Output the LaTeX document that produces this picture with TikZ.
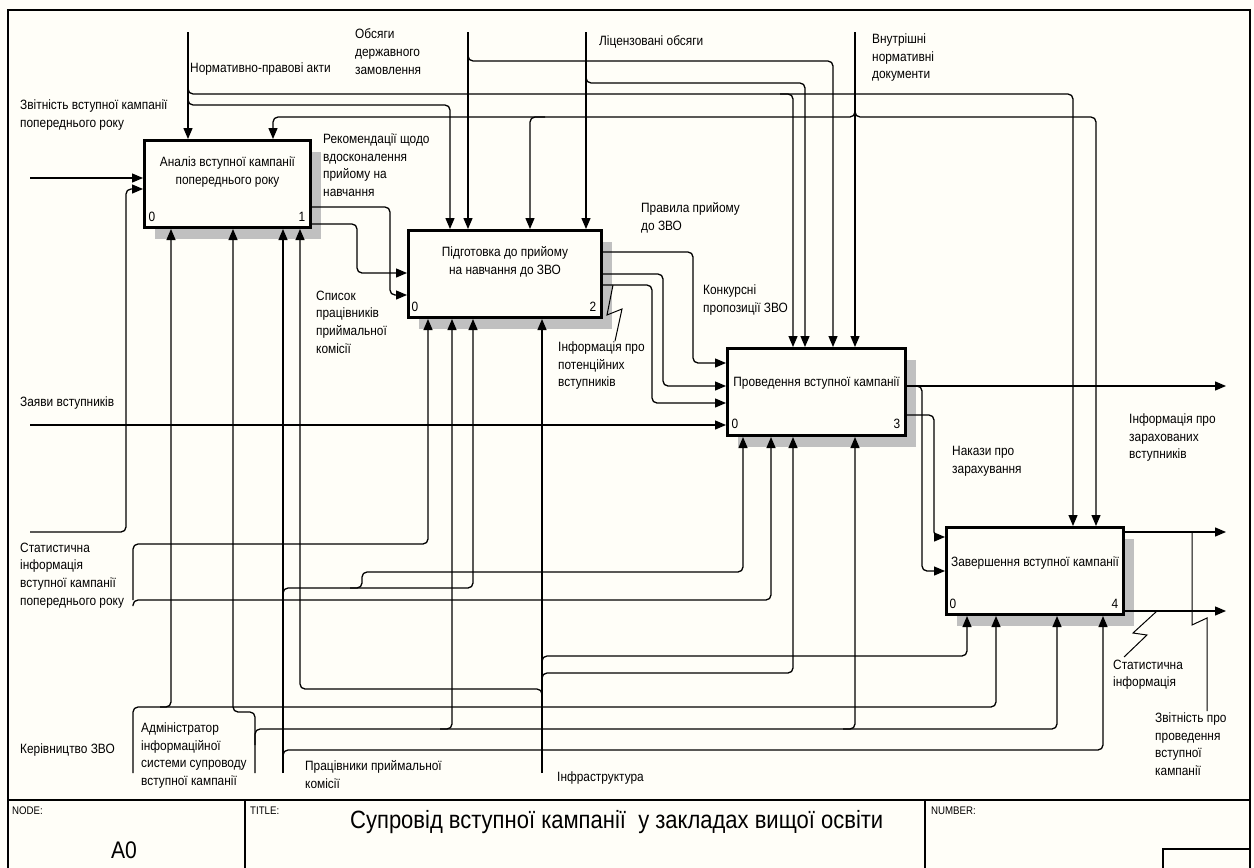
\documentclass[tikz,border=0pt]{standalone}
\usepackage{fontspec}
\setmainfont{Liberation Sans}[FakeStretch=0.88]
\usetikzlibrary{arrows.meta,shadows}
\definecolor{bgc}{RGB}{255,254,248}
\definecolor{shc}{RGB}{192,192,192}
\newcommand\lf{\fontsize{13.5}{17.8}\selectfont}
\newcommand\mylab[4]{\node[lbl] (#1) at (#2,{#3-7.6}) {#4};}
\begin{document}
\begin{tikzpicture}[x=1pt,y=-1pt,
 conn/.style={line width=1.3pt, rounded corners=5pt, line join=round},
 arr/.style={conn, -{Triangle[length=11pt,width=9pt]}},
 sq/.style={line width=1pt},
 frame/.style={line width=1.3pt},
 box/.style={draw, line width=3pt, fill=bgc, inner sep=0, minimum height=87pt,
   drop shadow={shadow xshift=10pt, shadow yshift=-11pt, fill=shc, opacity=1}},
 lbl/.style={inner sep=0, anchor=north west, align=left, font=\lf, execute at begin node=\strut},
 btxt/.style={inner sep=0, anchor=north, align=center, font=\lf, execute at begin node=\strut},
 num/.style={inner sep=0, font=\lf}]
\useasboundingbox (0,0) rectangle (1254,868);
\fill[bgc] (0,0) rectangle (1254,868);
% frame and title block
\draw[frame] (8,868) -- (8,10) -- (1250,10) -- (1250,868);
\draw[frame] (8,800) -- (1250,800);
\draw[frame] (245,800) -- (245,868);
\draw[frame] (925,800) -- (925,868);
\draw[frame] (1163,868) -- (1163,849) -- (1250,849);
% boxes
\node[box, minimum width=166pt] (b1) at (227.5,184) {};
\node[box, minimum width=193pt] (b2) at (505,274) {};
\node[box, minimum width=178pt] (b3) at (816.5,392) {};
\node[box, minimum width=177pt] (b4) at (1035,571) {};
% sources / sinks
\coordinate (sNPA) at (188,32);
\coordinate (sObs) at (468,32);
\coordinate (sLic) at (586,32);
\coordinate (sVn) at (855,32);
\coordinate (sZvit) at (30,178);
\coordinate (sStat) at (30,532);
\coordinate (sZay) at (30,425);
\coordinate (sKer) at (133,773);
\coordinate (sAdm) at (255,773);
\coordinate (sPrac) at (283,773);
\coordinate (sInf) at (542,773);
\coordinate (oInfZ) at (1226,386);
\coordinate (oZvitP) at (1226,532);
\coordinate (oStat) at (1226,611);
% controls
\draw[arr] (sNPA) -- (b1.north -| sNPA);
\draw[arr] (188,80) -- (188,94) -- (793,94) -- (b3.north -| 793,0);
\draw[arr] (780,94) -- (1073,94) -- (b4.north -| 1073,0);
\draw[arr] (188,92) -- (188,105) -- (450,105) -- (b2.north -| 450,0);
\draw[arr] (sObs) -- (b2.north -| sObs);
\draw[arr] (468,48) -- (468,61) -- (833,61) -- (b3.north -| 833,0);
\draw[arr] (sLic) -- (b2.north -| sLic);
\draw[arr] (586,70) -- (586,83) -- (805,83) -- (b3.north -| 805,0);
\draw[arr] (sVn) -- (b3.north -| sVn);
\draw[arr] (855,104) -- (855,117) -- (273,117) -- (b1.north -| 273,0);
\draw[arr] (545,117) -- (530,117) -- (b2.north -| 530,0);
\draw[arr] (855,104) -- (855,117) -- (1096,117) -- (b4.north -| 1096,0);
% inputs
\draw[arr] (sZvit) -- (b1.west |- sZvit);
\draw[arr] (sStat) -- (126,532) -- (126,189) -- (b1.west |- 0,189);
\draw[arr] (sZay) -- (b3.west |- sZay);
% outputs box 1
\draw[arr] (b1.east |- 0,207) -- (390,207) -- (390,295) -- (b2.west |- 0,295);
\draw[arr] (b1.east |- 0,224) -- (357,224) -- (357,273) -- (b2.west |- 0,273);
% outputs box 2
\draw[arr] (b2.east |- 0,252) -- (693,252) -- (693,363) -- (b3.west |- 0,363);
\draw[arr] (b2.east |- 0,274) -- (663,274) -- (663,386) -- (b3.west |- 0,386);
\draw[arr] (b2.east |- 0,285) -- (652,285) -- (652,403) -- (b3.west |- 0,403);
% outputs box 3
\draw[arr] (b3.east |- 0,386) -- (oInfZ);
\draw[arr] (912,386) -- (922,386) -- (922,571) -- (b4.west |- 0,571);
\draw[arr] (b3.east |- 0,415) -- (934,415) -- (934,537) -- (b4.west |- 0,537);
% outputs box 4
\draw[arr] (b4.east |- 0,532) -- (oZvitP);
\draw[arr] (b4.east |- 0,611) -- (oStat);
% mechanisms: Kerivnytstvo
\draw[arr] (sKer) -- (133,707) -- (996,707) -- (b4.south -| 996,0);
\draw[arr] (160,707) -- (171,707) -- (b1.south -| 171,0);
\draw[arr] (133,600) -- (133,544) -- (428,544) -- (b2.south -| 428,0);
\draw[arr] (133,606) -- (133,600) -- (771,600) -- (b3.south -| 771,0);
% Administrator
\draw[arr] (sAdm) -- (255,712) -- (233,712) -- (b1.south -| 233,0);
\draw[arr] (255,745) -- (255,729) -- (1057,729) -- (b4.south -| 1057,0);
\draw[arr] (440,729) -- (452,729) -- (b2.south -| 452,0);
\draw[arr] (843,729) -- (855,729) -- (b3.south -| 855,0);
% Pratsivnyky
\draw[arr] (sPrac) -- (b1.south -| sPrac);
\draw[arr] (283,600) -- (283,588) -- (473,588) -- (b2.south -| 473,0);
\draw[arr] (350,588) -- (362,588) -- (362,572) -- (743,572) -- (b3.south -| 743,0);
\draw[arr] (283,762) -- (283,750) -- (1103,750) -- (b4.south -| 1103,0);
% Infrastruktura
\draw[arr] (sInf) -- (b2.south -| sInf);
\draw[arr] (542,700) -- (542,689) -- (300,689) -- (b1.south -| 300,0);
\draw[arr] (542,668) -- (542,656) -- (967,656) -- (b4.south -| 967,0);
\draw[arr] (542,685) -- (542,673) -- (793,673) -- (b3.south -| 793,0);
% squiggles
\draw[sq] (613,285) -- (607,315) -- (622,309) -- (615,341);
\draw[sq] (1157,611) -- (1133,633) -- (1147,635) -- (1124,657);
\draw[sq] (1192,532) -- (1192,625) -- (1207,618) -- (1207,711);
% box texts
\node[btxt] (t1) at (227.5,{164-7.6}) {Аналіз вступної кампанії\\попереднього року};
\node[btxt] (t2) at (505,{254-7.6}) {Підготовка до прийому\\на навчання до ЗВО};
\node[btxt] (t3) at (816.5,{381-7.6}) {Проведення вступної кампанії};
\node[btxt] (t4) at (1035,{561-7.6}) {Завершення вступної кампанії};
\node[num] (n10) at (152,217) {0};
\node[num] (n11) at (302,217) {1};
\node[num] (n20) at (415,307) {0};
\node[num] (n22) at (593,307) {2};
\node[num] (n30) at (735,424) {0};
\node[num] (n33) at (897,424) {3};
\node[num] (n40) at (953,604) {0};
\node[num] (n44) at (1115,604) {4};
% labels
\mylab{lNPA}{190}{67}{Нормативно-правові акти}
\mylab{lObs}{355}{36}{Обсяги\\державного\\замовлення}
\mylab{lLic}{599}{40}{Ліцензовані обсяги}
\mylab{lVn}{872}{41}{Внутрішні\\нормативні\\документи}
\mylab{lZvit}{20}{107}{Звітність вступної кампанії\\попереднього року}
\mylab{lRek}{323}{141}{Рекомендації щодо\\вдосконалення\\прийому на\\навчання}
\mylab{lPrav}{641}{210}{Правила прийому\\до ЗВО}
\mylab{lKonk}{703}{292}{Конкурсні\\пропозиції ЗВО}
\mylab{lPot}{558}{349}{Інформація про\\потенційних\\вступників}
\mylab{lSpys}{316}{298}{Список\\працівників\\приймальної\\комісії}
\mylab{lZay}{20}{401}{Заяви вступників}
\mylab{lStat}{20}{550}{Статистична\\інформація\\вступної кампанії\\попереднього року}
\mylab{lKer}{20}{748}{Керівництво ЗВО}
\mylab{lAdm}{141}{730}{Адміністратор\\інформаційної\\системи супроводу\\вступної кампанії}
\mylab{lPrac}{305}{768}{Працівники приймальної\\комісії}
\mylab{lInf}{557}{776}{Інфраструктура}
\mylab{lNak}{952}{454}{Накази про\\зарахування}
\mylab{lInfZ}{1129}{421}{Інформація про\\зарахованих\\вступників}
\mylab{lStat2}{1113}{667}{Статистична\\інформація}
\mylab{lZvitP}{1155}{720}{Звітність про\\проведення\\вступної\\кампанії}
% title block texts
\node[inner sep=0, anchor=west, font=\fontsize{11}{13}\selectfont] (tNode) at (12,811) {NODE:};
\node[inner sep=0, anchor=west, font=\fontsize{11}{13}\selectfont] (tTitle) at (250,811) {TITLE:};
\node[inner sep=0, anchor=west, font=\fontsize{11}{13}\selectfont] (tNum) at (931,811) {NUMBER:};
\node[inner sep=0, font=\fontsize{24}{28}\selectfont] (tA0) at (124,850) {A0};
\node[inner sep=0, anchor=base west, font=\fontsize{25}{30}\selectfont] (tT) at (350,828) {Супровід вступної кампанії\ \ у закладах вищої освіти};
\end{tikzpicture}
\end{document}
